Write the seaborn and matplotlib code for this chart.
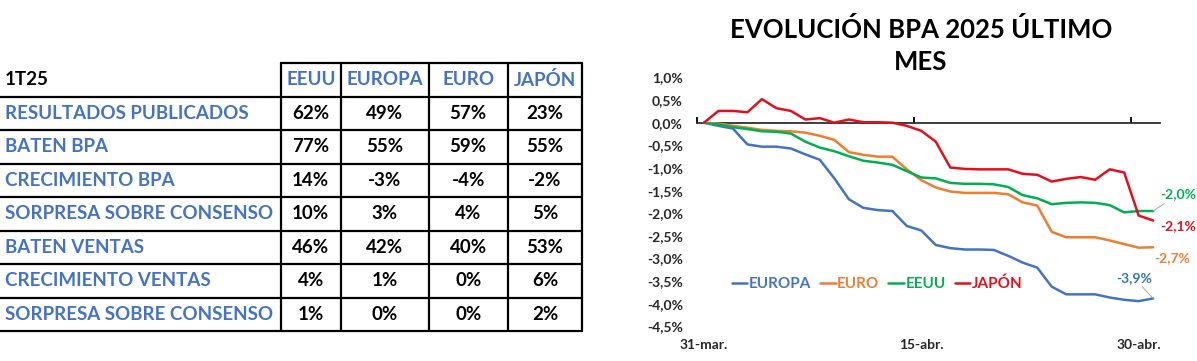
import numpy as np
import pandas as pd
import matplotlib
matplotlib.use("Agg")
import matplotlib.pyplot as plt
import seaborn as sns

# Table data (1T25)
row_labels = ["RESULTADOS PUBLICADOS", "BATEN BPA", "CRECIMIENTO BPA",
              "SORPRESA SOBRE CONSENSO", "BATEN VENTAS", "CRECIMIENTO VENTAS",
              "SORPRESA SOBRE CONSENSO"]
col_labels = ["EEUU", "EUROPA", "EURO", "JAPÓN"]
tab_eeuu = [62, 77, 14, 10, 46, 4, 1]
tab_europa = [49, 55, -3, 3, 42, 1, 0]
tab_euro = [57, 59, -4, 4, 40, 0, 0]
tab_japon = [23, 55, -2, 5, 53, 6, 2]

# Line chart data: daily, 31-mar to 1-may (% change in 2025 EPS)
days = list(range(32))
europa = [0, -0.07, -0.13, -0.48, -0.53, -0.53, -0.57, -0.70, -0.82, -1.23, -1.69,
          -1.88, -1.93, -1.95, -2.28, -2.38, -2.70, -2.77, -2.80, -2.80, -2.81,
          -2.94, -3.09, -3.20, -3.62, -3.79, -3.79, -3.79, -3.86, -3.91, -3.94, -3.88]
euro = [0, -0.02, -0.07, -0.11, -0.16, -0.18, -0.19, -0.22, -0.29, -0.38, -0.65,
        -0.71, -0.75, -0.75, -1.03, -1.27, -1.43, -1.52, -1.55, -1.55, -1.55,
        -1.58, -1.76, -1.83, -2.41, -2.53, -2.53, -2.53, -2.60, -2.68, -2.76, -2.75]
eeuu = [0, -0.04, -0.10, -0.14, -0.19, -0.20, -0.24, -0.42, -0.55, -0.63, -0.74,
        -0.84, -0.88, -0.93, -1.07, -1.21, -1.23, -1.33, -1.35, -1.35, -1.36,
        -1.42, -1.60, -1.67, -1.80, -1.77, -1.76, -1.77, -1.82, -1.98, -1.95, -1.95]
japon = [0, 0.26, 0.26, 0.23, 0.52, 0.32, 0.26, 0.07, 0.10, 0.0, 0.07,
         0.01, 0.01, 0.0, -0.07, -0.18, -0.42, -0.99, -1.02, -1.03, -1.03,
         -1.03, -1.13, -1.15, -1.30, -1.24, -1.20, -1.26, -1.03, -1.10, -2.05, -2.16]
x_tick_days = [0, 15, 30]
x_tick_labels = ["31-mar.", "15-abr.", "30-abr."]
end_labels = ["-3,9%", "-2,7%", "-2,0%", "-2,1%"]

series_names = ["EUROPA", "EURO", "EEUU", "JAPÓN"]
colors = {"EUROPA": "#4472C4", "EURO": "#ED7D31", "EEUU": "#00B050", "JAPÓN": "#E3101B"}
label_colors = {"EUROPA": "#2E75B6", "EURO": "#ED7D31", "EEUU": "#00B050", "JAPÓN": "#E3101B"}

df = pd.DataFrame({
    "dia": days * 4,
    "valor": europa + euro + eeuu + japon,
    "serie": [s for s in series_names for _ in days],
})

sns.set_theme(style="white")
plt.rcParams["font.family"] = ["Lato", "DejaVu Sans"]

W, H = 1197, 361
fig = plt.figure(figsize=(W / 100, H / 100), dpi=100)

# ---- Table (pixel coordinates) ----
axt = fig.add_axes([0, 0, 1, 1])
axt.set_xlim(0, W)
axt.set_ylim(H, 0)
axt.axis("off")

col_edges = [0, 280.5, 341, 428.5, 508, 582]
top, row_h = 63, 33.5
n_rows = len(row_labels) + 1
row_edges = [top + i * row_h for i in range(n_rows + 1)]
table_vals = [tab_eeuu, tab_europa, tab_euro, tab_japon]
blue_txt = "#4472C4"
fs_tab = 13.5

axt.plot([col_edges[1], col_edges[-1]], [top, top], color="black", lw=1.6)
for y in row_edges[1:]:
    axt.plot([col_edges[0], col_edges[-1]], [y, y], color="black", lw=1.6)
for x in col_edges[1:]:
    axt.plot([x, x], [row_edges[0], row_edges[-1]], color="black", lw=1.6)

yc = (row_edges[0] + row_edges[1]) / 2
axt.text(5, yc, "1T25", ha="left", va="center", fontsize=fs_tab, fontweight="bold", color="black")
for j, c in enumerate(col_labels):
    xc = (col_edges[j + 1] + col_edges[j + 2]) / 2
    axt.text(xc, yc, c, ha="center", va="center", fontsize=fs_tab, fontweight="bold", color=blue_txt)
for i, lab in enumerate(row_labels):
    yc = (row_edges[i + 1] + row_edges[i + 2]) / 2
    axt.text(5, yc, lab, ha="left", va="center", fontsize=fs_tab, fontweight="bold", color=blue_txt)
    for j, vals in enumerate(table_vals):
        xc = (col_edges[j + 1] + col_edges[j + 2]) / 2
        axt.text(xc, yc, f"{vals[i]}%", ha="center", va="center", fontsize=fs_tab,
                 fontweight="bold", color="black")

# ---- Line chart ----
x0, x1 = 696.7, 1160.4
y_top, y_bot = 77.4, 326.5
ax = fig.add_axes([x0 / W, 1 - y_bot / H, (x1 - x0) / W, (y_bot - y_top) / H])
sns.lineplot(data=df, x="dia", y="valor", hue="serie", hue_order=series_names,
             palette=colors, linewidth=1.8, ax=ax)

ymin, ymax = -4.5, 1.0
ax.set_xlim(-0.5, 31.5)
ax.set_ylim(ymin, ymax)
for s in ax.spines.values():
    s.set_visible(False)
ax.set_xlabel("")
ax.set_ylabel("")

yticks = np.arange(ymin, ymax + 0.01, 0.5)
ax.set_yticks(yticks)
ax.set_yticklabels([f"{v:.1f}%".replace(".", ",") for v in yticks])
ax.tick_params(axis="y", length=0, pad=10, labelsize=10)
ax.set_xticks(x_tick_days)
ax.set_xticklabels(x_tick_labels)
ax.tick_params(axis="x", length=0, pad=9, labelsize=10)
for t in ax.get_xticklabels() + ax.get_yticklabels():
    t.set_fontweight("bold")

# zero axis with tick marks at category boundaries
sec = ax.secondary_xaxis((0 - ymin) / (ymax - ymin))
sec.set_xticks([d - 0.5 for d in x_tick_days])
sec.set_xticklabels([])
sec.tick_params(direction="out", length=4, width=1.3, color="black")
sec.spines["bottom"].set_linewidth(2)
sec.spines["bottom"].set_color("black")

# end-of-series labels
last = {"EUROPA": europa[-1], "EURO": euro[-1], "EEUU": eeuu[-1], "JAPÓN": japon[-1]}
offsets = {"EUROPA": (-14, 15), "EURO": (14, -8), "EEUU": (18, 12), "JAPÓN": (18, -4)}
for name, txt in zip(series_names, end_labels):
    arrow = None
    if name in ("EUROPA", "EEUU"):
        arrow = dict(arrowstyle="-", color="#A6A6A6", lw=0.7, shrinkA=0, shrinkB=0)
    ax.annotate(txt, xy=(days[-1], last[name]), xytext=offsets[name],
                textcoords="offset points", ha="center", va="center",
                fontsize=10, fontweight="bold", color=label_colors[name], arrowprops=arrow,
                annotation_clip=False)

leg = ax.legend(loc="center", bbox_to_anchor=(0.389, 0.171), ncol=4, frameon=False,
                handlelength=1.0, handletextpad=0.1, columnspacing=0.6,
                prop={"size": 11, "weight": "bold"})
for txt, name in zip(leg.get_texts(), series_names):
    txt.set_color(colors[name])

fig.text(921 / W, 1 - 45 / H, "EVOLUCIÓN BPA 2025 ÚLTIMO\nMES", ha="center", va="center",
         fontsize=18.5, fontweight="bold", linespacing=1.4, color="black")

fig.savefig("out.png", dpi=100)
